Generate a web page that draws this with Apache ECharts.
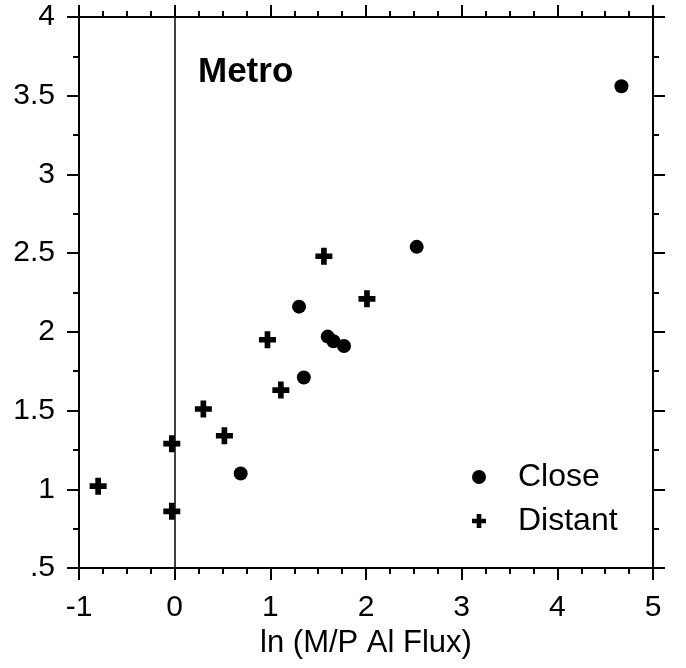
<!DOCTYPE html>
<html><head><meta charset="utf-8">
<script src="https://cdn.jsdelivr.net/npm/echarts@6/dist/echarts.min.js"></script>
<style>html,body{margin:0;padding:0;background:#fff}#c{width:686px;height:668px}</style>
</head><body><div id="c"></div>
<script>
// Data
const closeX   = [4.67, 2.53, 1.30, 1.60, 1.66, 1.77, 1.35, 0.69];
const closeY   = [3.56, 2.54, 2.16, 1.97, 1.94, 1.91, 1.71, 1.10];
const distantX = [-0.80, -0.03, -0.03, 0.30, 0.52, 0.97, 1.11, 1.56, 2.01];
const distantY = [1.02, 1.29, 0.86, 1.51, 1.34, 1.95, 1.63, 2.48, 2.21];
const seriesNames = ['Close', 'Distant'];
const yTickLabels = ['.5', '1', '1.5', '2', '2.5', '3', '3.5', '4'];
const xTickLabels = ['-1', '0', '1', '2', '3', '4', '5'];
const titleText = 'Metro';
const xAxisTitle = 'ln (M/P Al Flux)';

const FONT = '"Liberation Sans", Arial, Helvetica, sans-serif';
const PLUS = 'path://M-1,-3H1V-1H3V1H1V3H-1V1H-3V-1H-1Z';
const BLACK = '#000';

function zip(xs, ys) { return xs.map((x, i) => [x, ys[i]]); }

const axisLine = { show: true, onZero: false, lineStyle: { color: BLACK, width: 2 } };
const tick = { show: true, inside: false, length: 12, lineStyle: { color: BLACK, width: 2 } };

function xAx(pos, showLabel) {
  return {
    type: 'value', position: pos, min: -1, max: 5, interval: 1,
    axisLine: axisLine, axisTick: tick,
    minorTick: { show: true, splitNumber: 4, length: 6, lineStyle: { color: BLACK, width: 2 } },
    splitLine: { show: false }, minorSplitLine: { show: false },
    axisLabel: {
      show: showLabel, margin: 25, color: BLACK, fontSize: 30, fontFamily: FONT,
      formatter: v => xTickLabels[Math.round(v + 1)]
    },
    name: showLabel ? xAxisTitle : '', nameLocation: 'middle', nameGap: 60,
    nameTextStyle: { color: BLACK, fontSize: 31, fontFamily: FONT }
  };
}
function yAx(pos, showLabel) {
  return {
    type: 'value', position: pos, min: 0.5, max: 4, interval: 0.5,
    axisLine: axisLine, axisTick: tick,
    minorTick: { show: true, splitNumber: 2, length: 6, lineStyle: { color: BLACK, width: 2 } },
    splitLine: { show: false }, minorSplitLine: { show: false },
    axisLabel: {
      show: showLabel, margin: 24, color: BLACK, fontSize: 30, fontFamily: FONT,
      formatter: v => yTickLabels[Math.round((v - 0.5) / 0.5)]
    }
  };
}

const chart = echarts.init(document.getElementById('c'), null, { renderer: 'canvas' });
chart.setOption({
  backgroundColor: '#fff',
  animation: false,
  title: {
    text: titleText, left: 193, top: 50,
    textStyle: { color: BLACK, fontSize: 35, fontWeight: 'bold', fontFamily: FONT }
  },
  grid: { left: 79, right: 33, top: 17, bottom: 100, containLabel: false },
  xAxis: [xAx('bottom', true), xAx('top', false)],
  yAxis: [yAx('left', true), yAx('right', false)],
  legend: {
    orient: 'vertical', left: 467, top: 456, itemWidth: 14, itemHeight: 14, itemGap: 12,
    data: seriesNames,
    textStyle: { color: BLACK, fontSize: 32, fontFamily: FONT, lineHeight: 26, padding: [0, 0, 0, 27] }
  },
  series: [
    {
      name: seriesNames[0], type: 'scatter', xAxisIndex: 0, yAxisIndex: 0,
      symbol: 'circle', symbolSize: 14, itemStyle: { color: BLACK, opacity: 1 },
      data: zip(closeX, closeY), z: 5,
      markLine: {
        silent: true, symbol: 'none', label: { show: false },
        lineStyle: { color: BLACK, width: 1.5, type: 'solid' },
        data: [{ xAxis: 0 }]
      }
    },
    {
      name: seriesNames[1], type: 'scatter', xAxisIndex: 0, yAxisIndex: 0,
      symbol: PLUS, symbolSize: 17, itemStyle: { color: BLACK, opacity: 1 },
      data: zip(distantX, distantY), z: 5
    }
  ]
});
</script></body></html>
